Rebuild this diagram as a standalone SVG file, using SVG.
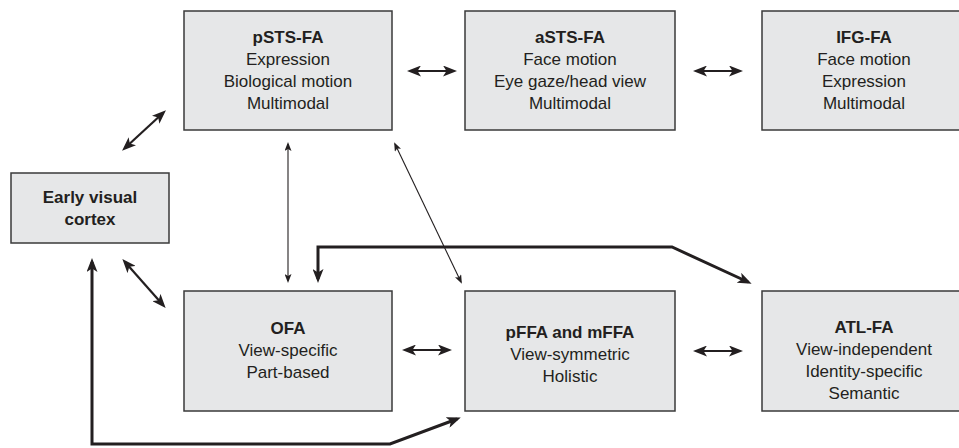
<svg xmlns="http://www.w3.org/2000/svg" width="959" height="448" viewBox="0 0 959 448">
<style>
.box{fill:#e6e7e8;stroke:#3a3a3a;stroke-width:1.5}
text{font-family:"Liberation Sans",Arial,sans-serif;font-size:17px;fill:#231f20;text-anchor:middle}
.b{font-weight:bold}
.thick{fill:none;stroke:#231f20;stroke-width:3}
.med{fill:none;stroke:#231f20;stroke-width:2.2}
.thin{fill:none;stroke:#231f20;stroke-width:1.1}
</style>
<defs>
<marker id="ah" viewBox="0 0 14 11" refX="10" refY="5.5" markerWidth="14" markerHeight="11" markerUnits="userSpaceOnUse" orient="auto-start-reverse">
<path d="M0,0 L14,5.5 L0,11 L3.5,5.5 z" fill="#231f20"/>
</marker>
<marker id="at" viewBox="0 0 9 7" refX="7" refY="3.5" markerWidth="9" markerHeight="7" markerUnits="userSpaceOnUse" orient="auto-start-reverse">
<path d="M0,0 L9,3.5 L0,7 L2,3.5 z" fill="#231f20"/>
</marker>
</defs>
<g id="connectors">
<line class="med" x1="411" y1="71" x2="453" y2="71" marker-start="url(#ah)" marker-end="url(#ah)"/>
<line class="med" x1="697" y1="71" x2="739" y2="71" marker-start="url(#ah)" marker-end="url(#ah)"/>
<line class="med" x1="125" y1="148" x2="163" y2="113" marker-start="url(#ah)" marker-end="url(#ah)"/>
<line class="med" x1="125" y1="262" x2="163" y2="305" marker-start="url(#ah)" marker-end="url(#ah)"/>
<line class="med" x1="406" y1="350" x2="448" y2="350" marker-start="url(#ah)" marker-end="url(#ah)"/>
<line class="med" x1="697" y1="351" x2="739" y2="351" marker-start="url(#ah)" marker-end="url(#ah)"/>
<line class="thin" x1="288" y1="144" x2="288" y2="281" marker-start="url(#at)" marker-end="url(#at)"/>
<line class="thin" x1="395" y1="144" x2="461" y2="282" marker-start="url(#at)" marker-end="url(#at)"/>
<polyline class="thick" points="318,279 318,247 672,247 748,282" marker-start="url(#ah)" marker-end="url(#ah)"/>
<polyline class="thick" points="92,262 92,444 390,444 457,419" marker-start="url(#ah)" marker-end="url(#ah)"/>
</g>
<g id="pSTS-FA">
<rect class="box" x="184" y="11" width="208" height="119"/>
<text x="288" y="43" class="b">pSTS-FA</text>
<text x="288" y="65">Expression</text>
<text x="288" y="87">Biological motion</text>
<text x="288" y="109">Multimodal</text>
</g>
<g id="aSTS-FA">
<rect class="box" x="465" y="11" width="210" height="119"/>
<text x="570" y="43" class="b">aSTS-FA</text>
<text x="570" y="65">Face motion</text>
<text x="570" y="87">Eye gaze/head view</text>
<text x="570" y="109">Multimodal</text>
</g>
<g id="IFG-FA">
<rect class="box" x="762" y="11" width="204" height="119"/>
<text x="864" y="43" class="b">IFG-FA</text>
<text x="864" y="65">Face motion</text>
<text x="864" y="87">Expression</text>
<text x="864" y="109">Multimodal</text>
</g>
<g id="early-visual-cortex">
<rect class="box" x="11" y="173" width="158" height="70"/>
<text x="90" y="203" class="b">Early visual</text>
<text x="90" y="225" class="b">cortex</text>
</g>
<g id="OFA">
<rect class="box" x="184" y="291" width="208" height="120"/>
<text x="288" y="334" class="b">OFA</text>
<text x="288" y="356">View-specific</text>
<text x="288" y="378">Part-based</text>
</g>
<g id="pFFA-mFFA">
<rect class="box" x="465" y="291" width="210" height="120"/>
<text x="570" y="338" class="b">pFFA and mFFA</text>
<text x="570" y="360">View-symmetric</text>
<text x="570" y="382">Holistic</text>
</g>
<g id="ATL-FA">
<rect class="box" x="762" y="291" width="204" height="120"/>
<text x="864" y="333" class="b">ATL-FA</text>
<text x="864" y="355">View-independent</text>
<text x="864" y="377">Identity-specific</text>
<text x="864" y="399">Semantic</text>
</g>
</svg>
